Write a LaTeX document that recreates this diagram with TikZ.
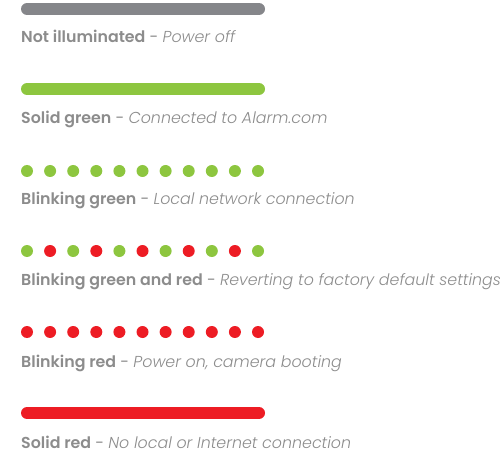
\documentclass[tikz,border=0pt]{standalone}
\usepackage{fontspec}
\setmainfont{Poppins}[BoldFont={Poppins SemiBold},ItalicFont={Poppins Light Italic}]
\definecolor{ledgray}{HTML}{85868A}
\definecolor{ledgreen}{HTML}{8DC63F}
\definecolor{ledred}{HTML}{ED1C24}
\definecolor{txtgray}{HTML}{8C8C8C}
\begin{document}
\begin{tikzpicture}[x=1bp,y=-1bp,
  bar/.style={line width=12bp,line cap=round},
  dot/.style={circle,inner sep=0pt,minimum size=12bp},
  lbl/.style={anchor=base west,inner sep=0pt,text=txtgray,font=\fontsize{15.9}{18}\selectfont}]
\useasboundingbox (0,0) rectangle (504,472);
% row 1
\coordinate (g1) at (27,9); \coordinate (g2) at (259,9);
\draw[bar,ledgray] (g1) -- (g2);
\node[lbl] (t1) at (21,43) {\textbf{Not illuminated} - \textit{Power off}};
% row 2
\coordinate (s1) at (27,89); \coordinate (s2) at (259,89);
\draw[bar,ledgreen] (s1) -- (s2);
\node[lbl] (t2) at (21,124) {\textbf{Solid green} - \textit{Connected to Alarm.com}};
% row 3
\foreach \i in {0,...,10} \node[dot,fill=ledgreen] (bg\i) at (27+23.1*\i,171) {};
\node[lbl] (t3) at (21,205) {\textbf{Blinking green} - \textit{Local network connection}};
% row 4
\foreach \i/\c in {0/ledgreen,1/ledred,2/ledgreen,3/ledred,4/ledgreen,5/ledred,6/ledgreen,7/ledred,8/ledgreen,9/ledred,10/ledgreen}
  \node[dot,fill=\c] (bgr\i) at (27+23.1*\i,251) {};
\node[lbl] (t4) at (21,285) {\textbf{Blinking green and red} - \textit{Reverting to factory default settings}};
% row 5
\foreach \i in {0,...,10} \node[dot,fill=ledred] (br\i) at (27+23.1*\i,332) {};
\node[lbl] (t5) at (21,367) {\textbf{Blinking red} - \textit{Power on, camera booting}};
% row 6
\coordinate (r1) at (27,413); \coordinate (r2) at (259,413);
\draw[bar,ledred] (r1) -- (r2);
\node[lbl] (t6) at (21,448) {\textbf{Solid red} - \textit{No local or Internet connection}};
\end{tikzpicture}
\end{document}
